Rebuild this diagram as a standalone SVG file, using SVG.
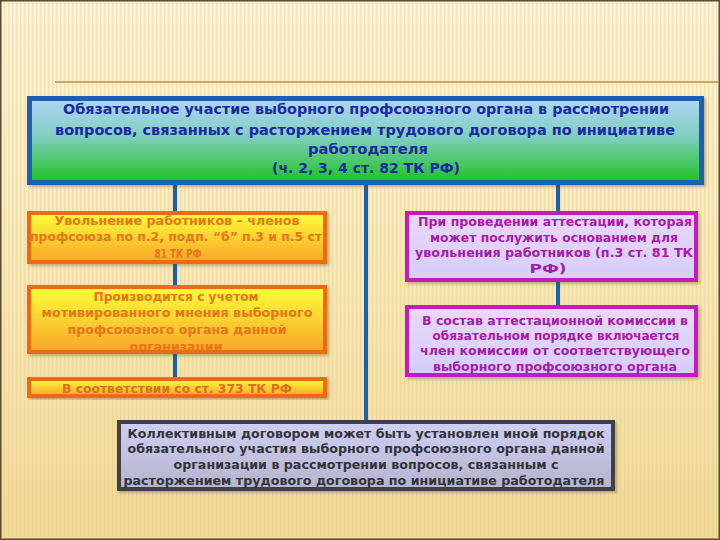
<svg xmlns="http://www.w3.org/2000/svg" width="720" height="540" viewBox="0 0 720 540">
<defs>
<linearGradient id="bg" x1="0" y1="0" x2="0" y2="1">
<stop offset="0" stop-color="#fbf2d4"/>
<stop offset="0.5" stop-color="#f8e8b8"/>
<stop offset="1" stop-color="#f2da98"/>
</linearGradient>
<pattern id="stripes" width="4" height="10" patternUnits="userSpaceOnUse">
<rect x="0" y="0" width="1.3" height="10" fill="#c8a050" opacity="0.16"/>
</pattern>
<linearGradient id="gTop" x1="0" y1="0" x2="0" y2="1">
<stop offset="0" stop-color="#b0d4f6"/>
<stop offset="0.45" stop-color="#80cfc0"/>
<stop offset="1" stop-color="#1ec21e"/>
</linearGradient>
<linearGradient id="gOrange" x1="0" y1="0" x2="0" y2="1">
<stop offset="0" stop-color="#ffff3a"/>
<stop offset="1" stop-color="#f8a428"/>
</linearGradient>
<linearGradient id="gPurple" x1="0" y1="0" x2="0" y2="1">
<stop offset="0" stop-color="#ead8f6"/>
<stop offset="1" stop-color="#d4cefc"/>
</linearGradient>
<linearGradient id="gGray" x1="0" y1="0" x2="0" y2="1">
<stop offset="0" stop-color="#cfcff6"/>
<stop offset="1" stop-color="#b4b4cc"/>
</linearGradient>
<filter id="sh" x="-5%" y="-10%" width="112%" height="130%">
<feDropShadow dx="2" dy="2" stdDeviation="1.5" flood-color="#5a4a20" flood-opacity="0.35"/>
</filter>
</defs>
<style>
.t{font-family:"DejaVu Sans","Noto Sans",sans-serif;font-weight:bold;text-anchor:middle}
.tt{font-size:14.5px;fill:#1a2aa0}
.to{font-size:12.5px;fill:#e8741c}
.tp{font-size:12.5px;fill:#a81aa8}
.tg{font-size:12.5px;fill:#333338}
.bTop{fill:url(#gTop);stroke:#1b5fb5;stroke-width:5}
.bOr{fill:url(#gOrange);stroke:#f06a10;stroke-width:4}
.bPu{fill:url(#gPurple);stroke:#c01cc0;stroke-width:4}
.bGr{fill:url(#gGray);stroke:#404048;stroke-width:4}
.conn{stroke:#1a5fb0;stroke-width:4;fill:none}
</style>

<rect x="0" y="0" width="720" height="540" fill="url(#bg)"/>
<rect x="0" y="0" width="720" height="540" fill="url(#stripes)"/>
<rect x="0.75" y="0.75" width="718.5" height="538.5" fill="none" stroke="#5a4a30" stroke-width="1.5"/>
<line x1="55" y1="82" x2="718" y2="82" stroke="#c8a860" stroke-width="2"/>

<g id="connectors">
<line class="conn" x1="175" y1="184" x2="175" y2="378"/>
<line class="conn" x1="366" y1="184" x2="366" y2="421"/>
<line class="conn" x1="558" y1="184" x2="558" y2="306"/>
</g>

<g id="top">
<rect class="bTop" x="29.5" y="98.5" width="672" height="84" filter="url(#sh)"/>
<text class="t tt" x="366" y="114" textLength="606" lengthAdjust="spacingAndGlyphs">Обязательное участие выборного профсоюзного органа в рассмотрении</text>
<text class="t tt" x="365" y="134.5" textLength="620" lengthAdjust="spacingAndGlyphs">вопросов, связанных с расторжением трудового договора по инициативе</text>
<text class="t tt" x="368" y="154" textLength="120" lengthAdjust="spacingAndGlyphs">работодателя</text>
<text class="t tt" x="366" y="173" textLength="188" lengthAdjust="spacingAndGlyphs">(ч. 2, 3, 4 ст. 82 ТК РФ)</text>
</g>

<g id="left1">
<rect class="bOr" x="29" y="213" width="296" height="49" filter="url(#sh)"/>
<text class="t to" x="177" y="225" textLength="245" lengthAdjust="spacingAndGlyphs">Увольнение работников – членов</text>
<text class="t to" x="176" y="241" textLength="292" lengthAdjust="spacingAndGlyphs">профсоюза по п.2, подп. “б” п.3 и п.5 ст</text>
<text class="t to" x="178" y="258" textLength="47" lengthAdjust="spacingAndGlyphs">81 ТК РФ</text>
</g>

<g id="left2">
<rect class="bOr" x="29" y="287" width="296" height="65" filter="url(#sh)"/>
<text class="t to" x="176" y="300.5" textLength="165" lengthAdjust="spacingAndGlyphs">Производится с учетом</text>
<text class="t to" x="177" y="317" textLength="271" lengthAdjust="spacingAndGlyphs">мотивированного мнения выборного</text>
<text class="t to" x="177" y="334" textLength="219" lengthAdjust="spacingAndGlyphs">профсоюзного органа данной</text>
<text class="t to" x="176" y="351" textLength="93" lengthAdjust="spacingAndGlyphs">организации</text>
</g>

<g id="left3">
<rect class="bOr" x="29" y="379" width="296" height="17" filter="url(#sh)"/>
<text class="t to" x="177" y="393" textLength="230" lengthAdjust="spacingAndGlyphs" style="fill:#d8701c">В соответствии со ст. 373 ТК РФ</text>
</g>

<g id="right1">
<rect class="bPu" x="407" y="213" width="289" height="67" filter="url(#sh)"/>
<text class="t tp" x="555" y="226" textLength="274" lengthAdjust="spacingAndGlyphs">При проведении аттестации, которая</text>
<text class="t tp" x="554" y="241.5" textLength="248" lengthAdjust="spacingAndGlyphs">может послужить основанием для</text>
<text class="t tp" x="554" y="257" textLength="278" lengthAdjust="spacingAndGlyphs">увольнения работников (п.3 ст. 81 ТК</text>
<text class="t tp" x="548" y="273" textLength="37" lengthAdjust="spacingAndGlyphs">РФ)</text>
</g>

<g id="right2">
<rect class="bPu" x="407" y="307" width="289" height="68" filter="url(#sh)"/>
<text class="t tp" x="555" y="325" textLength="266" lengthAdjust="spacingAndGlyphs">В состав аттестационной комиссии в</text>
<text class="t tp" x="556" y="340" textLength="247" lengthAdjust="spacingAndGlyphs">обязательном порядке включается</text>
<text class="t tp" x="555" y="355" textLength="270" lengthAdjust="spacingAndGlyphs">член комиссии от соответствующего</text>
<text class="t tp" x="555" y="371" textLength="244" lengthAdjust="spacingAndGlyphs">выборного профсоюзного органа</text>
</g>

<g id="bottom">
<rect class="bGr" x="119" y="422" width="494" height="67" filter="url(#sh)"/>
<text class="t tg" x="366" y="438" textLength="477" lengthAdjust="spacingAndGlyphs">Коллективным договором может быть установлен иной порядок</text>
<text class="t tg" x="366" y="453" textLength="477" lengthAdjust="spacingAndGlyphs">обязательного участия выборного профсоюзного органа данной</text>
<text class="t tg" x="366" y="469" textLength="385" lengthAdjust="spacingAndGlyphs">организации в рассмотрении вопросов, связанным с</text>
<text class="t tg" x="364" y="485" textLength="481" lengthAdjust="spacingAndGlyphs">расторжением трудового договора по инициативе работодателя</text>
</g>
</svg>
